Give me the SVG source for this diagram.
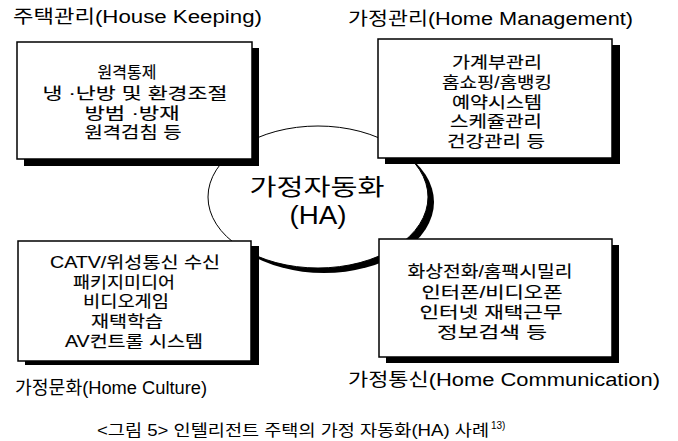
<svg xmlns="http://www.w3.org/2000/svg" width="678" height="441" viewBox="0 0 678 441">
<style>
  text { font-family: "Liberation Sans", "Noto Sans CJK KR", sans-serif; fill: #000; }
  .title { font-size: 18px; }
  .item { font-size: 16px; text-anchor: middle; stroke: #000; stroke-width: 0.15px; }
  .box { fill: #fff; stroke: #000; stroke-width: 1.5; }
  .shadow { fill: #000; }
  .center { font-size: 23px; text-anchor: middle; }
  .cap { font-size: 16px; }
</style>
<rect width="678" height="441" fill="#fff"/>
<g id="connectors"/>
<g id="center">
  <ellipse cx="324" cy="202" rx="110" ry="71" fill="#000"/>
  <ellipse cx="318" cy="197" rx="110" ry="71" fill="#fff" stroke="#000" stroke-width="1"/>
  <text class="center" x="317" y="195" textLength="135" lengthAdjust="spacingAndGlyphs">가정자동화</text>
  <text class="center" x="318" y="224" style="font-size:25px" textLength="57" lengthAdjust="spacingAndGlyphs">(HA)</text>
</g>
<g id="house-keeping">
  <rect class="shadow" x="24" y="48" width="235" height="118"/>
  <rect class="box" x="17" y="42" width="235" height="117"/>
  <text class="title" x="13" y="23" textLength="249" lengthAdjust="spacingAndGlyphs">주택관리(House Keeping)</text>
  <text class="item" x="127" y="78" font-family="Noto Sans CJK KR, sans-serif" font-size="16">&#xC6D0;&#xACA9;&#xD1B5;&#xC81C;</text>
  <text class="item" x="135" y="99" textLength="185" lengthAdjust="spacingAndGlyphs">냉 ·난방 및 환경조절</text>
  <text class="item" x="132" y="119" textLength="95" lengthAdjust="spacingAndGlyphs">방범 ·방재</text>
  <text class="item" x="133" y="138" textLength="97" lengthAdjust="spacingAndGlyphs">원격검침 등</text>
</g>
<g id="home-management">
  <rect class="shadow" x="385" y="45" width="235" height="119"/>
  <rect class="box" x="378" y="39" width="234" height="119"/>
  <text class="title" x="348" y="25" textLength="285" lengthAdjust="spacingAndGlyphs">가정관리(Home Management)</text>
  <text class="item" x="497" y="68" textLength="90" lengthAdjust="spacingAndGlyphs">가계부관리</text>
  <text class="item" x="497" y="88" textLength="110" lengthAdjust="spacingAndGlyphs">홈쇼핑/홈뱅킹</text>
  <text class="item" x="497" y="108" textLength="90" lengthAdjust="spacingAndGlyphs">예약시스템</text>
  <text class="item" x="496" y="127" textLength="92" lengthAdjust="spacingAndGlyphs">스케쥴관리</text>
  <text class="item" x="496" y="147" textLength="98" lengthAdjust="spacingAndGlyphs">건강관리 등</text>
</g>
<g id="home-culture">
  <rect class="shadow" x="25" y="246" width="234" height="119"/>
  <rect class="box" x="18" y="241" width="233" height="120"/>
  <text class="title" x="15" y="394" textLength="192" lengthAdjust="spacingAndGlyphs">가정문화(Home Culture)</text>
  <text class="item" x="135" y="268" textLength="170" lengthAdjust="spacingAndGlyphs">CATV/위성통신 수신</text>
  <text class="item" x="124" y="288" textLength="102" lengthAdjust="spacingAndGlyphs">패키지미디어</text>
  <text class="item" x="126" y="307" textLength="86" lengthAdjust="spacingAndGlyphs">비디오게임</text>
  <text class="item" x="127" y="327" textLength="72" lengthAdjust="spacingAndGlyphs">재택학습</text>
  <text class="item" x="134" y="347" textLength="138" lengthAdjust="spacingAndGlyphs">AV컨트롤 시스템</text>
</g>
<g id="home-communication">
  <rect class="shadow" x="386" y="245" width="233" height="118"/>
  <rect class="box" x="379" y="239" width="233" height="118"/>
  <text class="title" x="348" y="386" textLength="312" lengthAdjust="spacingAndGlyphs">가정통신(Home Communication)</text>
  <text class="item" x="490" y="277" textLength="165" lengthAdjust="spacingAndGlyphs">화상전화/홈팩시밀리</text>
  <text class="item" x="492" y="298" textLength="141" lengthAdjust="spacingAndGlyphs">인터폰/비디오폰</text>
  <text class="item" x="491" y="318" textLength="143" lengthAdjust="spacingAndGlyphs">인터넷 재택근무</text>
  <text class="item" x="492" y="338" textLength="110" lengthAdjust="spacingAndGlyphs">정보검색 등</text>
</g>
<g id="caption">
  <text class="cap" x="97" y="436" textLength="392" lengthAdjust="spacingAndGlyphs">&lt;그림 5&gt; 인텔리전트 주택의 가정 자동화(HA) 사례</text>
  <text x="491" y="429" style="font-size:10px">13)</text>
</g>
</svg>
